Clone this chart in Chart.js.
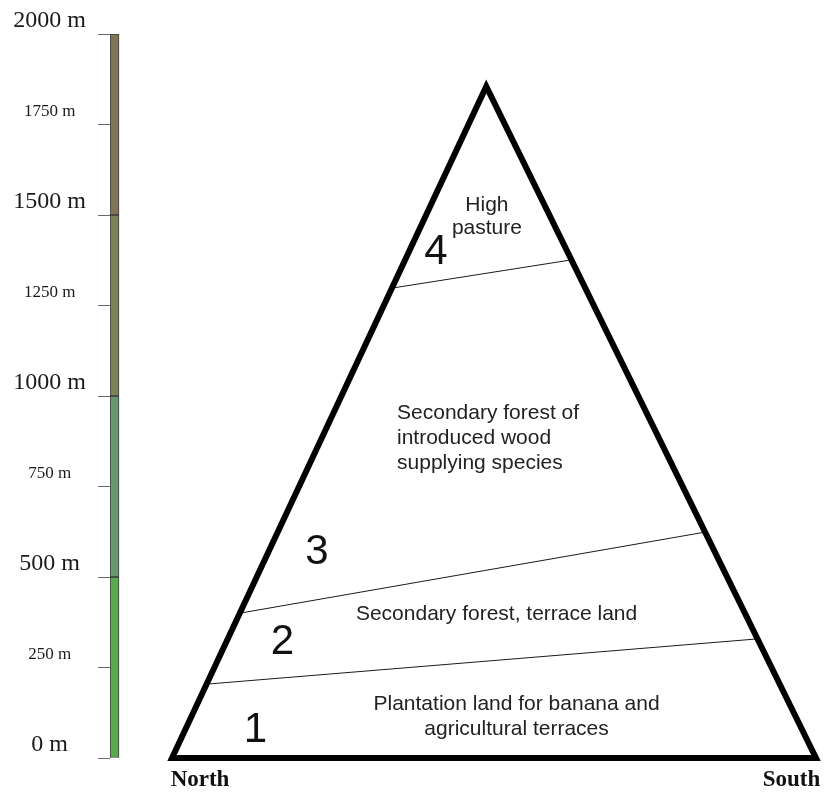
<!DOCTYPE html>
<html>
<head>
<meta charset="utf-8">
<title>Altitudinal zones</title>
<script src="https://cdn.jsdelivr.net/npm/chart.js@4.4.1/dist/chart.umd.min.js"></script>
<style>
  html, body { margin: 0; padding: 0; background: #fff; }
  #wrap { width: 825px; height: 792px; }
</style>
</head>
<body>
<div id="wrap"><canvas id="chart" width="825" height="792"></canvas></div>
<script>
// altitude scale (metres)
var altitudeTicks = [0, 250, 500, 750, 1000, 1250, 1500, 1750, 2000];
var majorTicks = [0, 500, 1000, 1500, 2000];
var bandRanges = [[0, 500], [500, 1000], [1000, 1500], [1500, 2000]];
var bandColors = ['#59ab4d', '#66996b', '#7b8459', '#807557'];

// mountain profile: north foot = 0, south foot = 100 (distance units)
var profileX = [0, 48.8, 100];
var profileAlt = [0, 1855, 0];

// zone boundaries: altitude where each line meets the north / south slope
var boundaryNorth = [204, 400, 1298];
var boundarySouth = [329, 624, 1376];

var zoneNumbers = ['1', '2', '3', '4'];
var zoneNames = [
  ['Plantation land for banana and', 'agricultural terraces'],
  ['Secondary forest, terrace land'],
  ['Secondary forest of', 'introduced wood', 'supplying species'],
  ['High', 'pasture']
];
var directions = ['North', 'South'];

(function () {
  'use strict';

  var SANS = '"Liberation Sans", Arial, sans-serif';
  var SERIF = '"Liberation Serif", "Times New Roman", serif';

  var peakX = profileX[1];
  var peakAlt = profileAlt[1];

  function northX(a) { return profileX[0] + (peakX - profileX[0]) * a / peakAlt; }
  function southX(a) { return profileX[2] - (profileX[2] - peakX) * a / peakAlt; }

  // closed outline, started mid-base so every corner gets a mitre join
  var baseMid = (profileX[0] + profileX[2]) / 2;
  var outline = [
    { x: baseMid, y: 0 },
    { x: profileX[2], y: profileAlt[2] },
    { x: peakX, y: peakAlt },
    { x: profileX[0], y: profileAlt[0] },
    { x: baseMid, y: 0 }
  ];

  var boundarySets = boundaryNorth.map(function (a, i) {
    return {
      type: 'line',
      data: [{ x: northX(a), y: a }, { x: southX(boundarySouth[i]), y: boundarySouth[i] }],
      borderColor: '#1a1a1a',
      borderWidth: 1,
      pointRadius: 0,
      tension: 0,
      fill: false,
      clip: false
    };
  });

  // label placement (distance units / metres)
  var numberPos = [{ x: 12.97, y: 75 }, { x: 17.16, y: 320 }, { x: 22.5, y: 569 }, { x: 41.0, y: 1396 }];
  var namePos = [
    { x: 53.5, y: 148, align: 'center', lh: 24.5 },
    { x: 50.4, y: 397, align: 'center', lh: 25 },
    { x: 34.94, y: 953, align: 'left', lh: 25 },
    { x: 48.9, y: 1528, align: 'center', lh: 23.5 }
  ];
  var directionPos = [{ x: 4.35, y: -61 }, { x: 96.2, y: -61 }];

  var labelsPlugin = {
    id: 'zoneLabels',
    afterDraw: function (chart) {
      var ctx = chart.ctx;
      var xs = chart.scales.x, ys = chart.scales.y;
      ctx.save();
      ctx.textBaseline = 'middle';

      ctx.fillStyle = '#111';
      ctx.font = '42px ' + SANS;
      ctx.textAlign = 'center';
      zoneNumbers.forEach(function (n, i) {
        ctx.fillText(n, xs.getPixelForValue(numberPos[i].x), ys.getPixelForValue(numberPos[i].y));
      });

      ctx.fillStyle = '#222';
      ctx.font = '21px ' + SANS;
      zoneNames.forEach(function (lines, i) {
        var p = namePos[i];
        ctx.textAlign = p.align;
        var px = xs.getPixelForValue(p.x);
        var py = ys.getPixelForValue(p.y);
        lines.forEach(function (t, k) { ctx.fillText(t, px, py + k * p.lh); });
      });

      ctx.fillStyle = '#111';
      ctx.font = 'bold 23px ' + SERIF;
      ctx.textAlign = 'center';
      directions.forEach(function (d, i) {
        ctx.fillText(d, xs.getPixelForValue(directionPos[i].x), ys.getPixelForValue(directionPos[i].y));
      });
      ctx.restore();
    }
  };

  var barX = -8.93; // sits just right of the altitude ticks

  new Chart(document.getElementById('chart'), {
    type: 'line',
    data: {
      datasets: [
        {
          type: 'line',
          data: outline,
          borderColor: '#000',
          borderWidth: 6,
          borderJoinStyle: 'miter',
          pointRadius: 0,
          tension: 0,
          fill: false,
          clip: false
        }
      ].concat(boundarySets).concat([
        {
          type: 'bar',
          data: bandRanges.map(function (r) { return { x: barX, y: r }; }),
          backgroundColor: bandColors,
          borderColor: '#3a3a3a',
          borderWidth: 1,
          borderSkipped: false,
          barThickness: 9
        }
      ])
    },
    options: {
      responsive: false,
      animation: false,
      events: [],
      layout: { padding: { top: 34, bottom: 34, left: 0, right: 0 } },
      plugins: { legend: { display: false }, tooltip: { enabled: false } },
      scales: {
        x: {
          type: 'linear',
          min: -9.63,
          max: 101.4,
          offset: false,
          display: false,
          grid: { offset: false }
        },
        y: {
          type: 'linear',
          min: 0,
          max: 2000,
          afterFit: function (scale) { scale.width = 110; },
          afterBuildTicks: function (scale) {
            scale.ticks = altitudeTicks.map(function (v) { return { value: v }; });
          },
          border: { display: false },
          grid: {
            drawOnChartArea: false,
            drawTicks: true,
            tickLength: 12,
            color: '#6a6a6a',
            lineWidth: 1
          },
          ticks: {
            crossAlign: 'center',
            padding: 12,
            labelOffset: -13,
            color: '#1a1a1a',
            callback: function (v) { return v + ' m'; },
            font: function (c) {
              var v = c.tick ? c.tick.value : 0;
              return { family: SERIF, size: majorTicks.indexOf(v) >= 0 ? 24 : 17 };
            }
          }
        }
      }
    },
    plugins: [labelsPlugin]
  });
})();
</script>
</body>
</html>
